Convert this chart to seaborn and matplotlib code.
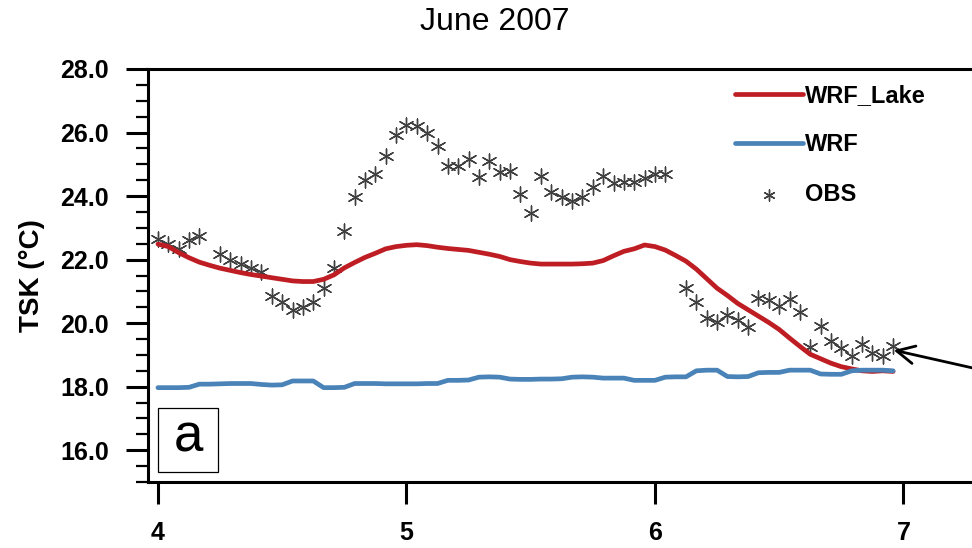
import numpy as np
import pandas as pd
import matplotlib
matplotlib.use("Agg")
import matplotlib.pyplot as plt
from matplotlib.ticker import MultipleLocator, FormatStrFormatter
from matplotlib.patches import Rectangle
import seaborn as sns

# hourly values from day 4 00h to day 6 23h (June 2007)
hours = np.arange(72)

wrf_lake = [22.49, 22.41, 22.22, 22.06, 21.92, 21.82, 21.73, 21.66, 21.59, 21.53,
            21.48, 21.43, 21.38, 21.33, 21.31, 21.31, 21.38, 21.52, 21.74, 21.91,
            22.07, 22.20, 22.34, 22.41, 22.45, 22.47, 22.44, 22.39, 22.35, 22.32,
            22.29, 22.23, 22.17, 22.10, 22.00, 21.94, 21.89, 21.86, 21.86, 21.86,
            21.86, 21.87, 21.89, 21.97, 22.12, 22.26, 22.34, 22.46, 22.41, 22.30,
            22.13, 21.95, 21.70, 21.40, 21.10, 20.87, 20.62, 20.42, 20.22, 20.02,
            19.80, 19.53, 19.27, 19.02, 18.88, 18.74, 18.63, 18.56, 18.50, 18.48,
            18.50, 18.48]

wrf = [17.97, 17.97, 17.97, 17.98, 18.08, 18.08, 18.09, 18.10, 18.10, 18.10,
       18.07, 18.05, 18.06, 18.18, 18.18, 18.18, 17.97, 17.97, 17.98, 18.10,
       18.10, 18.10, 18.09, 18.09, 18.09, 18.09, 18.10, 18.10, 18.20, 18.20,
       18.21, 18.30, 18.31, 18.30, 18.24, 18.23, 18.23, 18.24, 18.24, 18.25,
       18.30, 18.31, 18.30, 18.27, 18.27, 18.27, 18.20, 18.20, 18.20, 18.30,
       18.31, 18.31, 18.50, 18.52, 18.52, 18.32, 18.31, 18.32, 18.44, 18.45,
       18.45, 18.52, 18.52, 18.52, 18.40, 18.39, 18.39, 18.50, 18.52, 18.52,
       18.52, 18.50]

obs = [22.65, 22.50, 22.34, 22.62, 22.75, np.nan, 22.18, 21.99, 21.86, 21.75,
       21.61, 20.84, 20.68, 20.40, 20.52, 20.68, 21.10, 21.73, 22.91, 23.96,
       24.51, 24.70, 25.25, 25.93, 26.25, 26.21, 25.98, 25.59, 24.96, 24.96,
       25.17, 24.59, 25.09, 24.76, 24.80, 24.07, 23.46, 24.64, 24.13, 23.96,
       23.85, 23.96, 24.28, 24.64, 24.41, 24.44, 24.44, 24.57, 24.70, 24.70,
       np.nan, 21.10, 20.68, 20.16, 20.05, 20.26, 20.10, 19.89, 20.79, 20.73,
       20.54, 20.76, 20.35, 19.26, 19.92, 19.45, 19.21, 18.97, 19.35, 19.06,
       18.97, 19.28]

df = pd.DataFrame({"day": 4 + hours / 24, "WRF_Lake": wrf_lake, "WRF": wrf, "OBS": obs})

sns.set_style("ticks")
plt.rcParams["font.family"] = ["Liberation Sans", "DejaVu Sans"]
plt.rcParams["text.color"] = "black"
plt.rcParams["axes.labelcolor"] = "black"

fig = plt.figure(figsize=(9.72, 5.48), dpi=100)
ax = fig.add_axes([148 / 972, 1 - 482 / 548, 879.7 / 972, 413 / 548])

red = "#be1e23"
blue = "#4a83b8"

sns.lineplot(data=df, x="day", y="WRF_Lake", color=red, linewidth=3.4, label="WRF_Lake", ax=ax)
sns.lineplot(data=df, x="day", y="WRF", color=blue, linewidth=3.4, label="WRF", ax=ax)
sns.scatterplot(data=df, x="day", y="OBS", marker=(6, 2, 0), s=115, color="#404040",
                linewidth=1.0, label="OBS", ax=ax)

ax.set_xlim(3.96, 7.5)
ax.set_ylim(15, 28)
ax.set_xticks([4, 5, 6, 7])
ax.yaxis.set_major_locator(MultipleLocator(2))
ax.yaxis.set_minor_locator(MultipleLocator(0.5))
ax.yaxis.set_major_formatter(FormatStrFormatter("%.1f"))

for s in ax.spines.values():
    s.set_linewidth(2.2)
    s.set_color("black")
ax.tick_params(axis="both", which="major", direction="out", length=16, width=2.2,
               labelsize=18, pad=12, colors="black")
ax.tick_params(axis="y", which="minor", direction="out", length=8.5, width=1.6, colors="black")
ax.tick_params(axis="x", which="minor", length=0)
for lab in ax.get_xticklabels() + ax.get_yticklabels():
    lab.set_fontweight("bold")

ax.set_xlabel("")
ax.set_ylabel("TSK (\u00b0C)", fontsize=20, fontweight="bold", color="black")
ax.yaxis.set_label_coords(-0.117, 0.5)

fig.text(495 / 972, 1 - 22 / 548, "June 2007", fontsize=23, ha="center", va="center",
         color="black")

leg = ax.legend(loc="upper left", bbox_to_anchor=(735 / 972, 1 - 84 / 548),
                bbox_transform=fig.transFigure, frameon=False,
                prop={"weight": "bold", "size": 17}, handlelength=2.9, handletextpad=0.05,
                labelspacing=1.12, borderpad=0, borderaxespad=0, markerscale=0.75)
for t in leg.get_texts():
    t.set_color("black")

# panel label
ax.add_patch(Rectangle((10 / 879.7, 10 / 413), 60 / 879.7, 64 / 413, transform=ax.transAxes,
                       fill=False, edgecolor="black", linewidth=0.9))
ax.text(40 / 879.7, 44 / 413, "a", transform=ax.transAxes, fontsize=38,
        ha="center", va="center", color="black")

# arrow pointing to last observation
ax.annotate("", xy=(df["day"].iloc[-1] + 0.002, 19.15), xytext=(7.5, 18.2),
            arrowprops=dict(arrowstyle="->", lw=2.0, color="black", mutation_scale=32,
                            shrinkA=0, shrinkB=0))

fig.savefig("out.png", dpi=100)
